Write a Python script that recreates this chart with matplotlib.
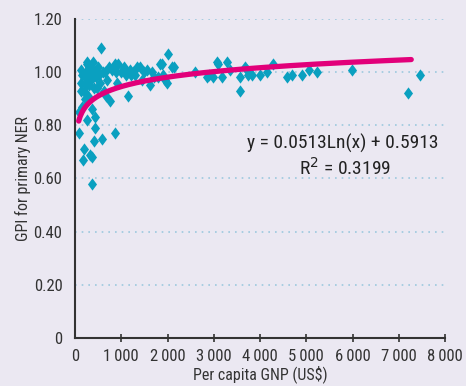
import numpy as np
import matplotlib
matplotlib.use("Agg")
import matplotlib.pyplot as plt
from matplotlib import font_manager

names = {f.name for f in font_manager.fontManager.ttflist}
fam = [n for n in ["Liberation Sans Narrow", "Roboto Condensed", "Roboto", "DejaVu Sans"] if n in names]
plt.rcParams['font.family'] = fam

gnp = [80, 90, 120, 130, 140, 150, 160, 180, 190, 200, 210, 220, 230, 240, 250, 260, 270, 270,
       280, 290, 300, 310, 320, 330, 340, 350, 360, 370, 370, 390, 400, 410, 420, 440, 440,
       450, 460, 480, 500, 520, 540, 560, 580, 600, 620, 650, 680, 700, 730, 760, 800, 860,
       870, 880, 900, 940, 1000, 1050, 1100, 1150, 1190, 1200, 1250, 1300, 1350, 1400, 1450,
       1500, 1550, 1620, 1660, 1700, 1800, 1840, 1880, 1910, 1950, 1990, 2010, 2090, 2130,
       2600, 2850, 2890, 2990, 3070, 3100, 3170, 3280, 3350, 3560, 3570, 3680, 3720, 3750,
       3820, 4000, 4150, 4290, 4580, 4690, 4900, 5050, 5230, 5990, 7210, 7450]
gpi = [0.77, 0.85, 0.93, 0.96, 1.01, 0.87, 0.99, 0.67, 0.71, 0.93, 0.98, 0.90, 1.00, 0.95,
       1.04, 0.82, 0.96, 1.03, 0.91, 0.98, 1.02, 0.95, 0.69, 1.01, 0.99, 0.97, 0.58, 0.68,
       0.86, 1.04, 0.74, 1.00, 0.94, 0.79, 0.83, 1.01, 0.98, 0.94, 1.02, 0.99, 0.96, 1.09,
       0.75, 1.00, 0.93, 1.00, 0.91, 0.97, 1.02, 0.89, 1.01, 0.77, 1.03, 1.00, 0.96, 1.03,
       1.00, 1.02, 0.99, 0.91, 1.01, 0.99, 1.00, 0.99, 1.02, 1.02, 0.97, 1.00, 1.01, 0.95,
       1.00, 0.98, 0.98, 1.03, 1.03, 0.99, 0.97, 0.96, 1.07, 1.02, 1.02, 1.00, 0.98, 0.99,
       0.98, 1.04, 1.03, 0.98, 1.04, 1.01, 0.93, 0.98, 1.02, 1.01, 0.99, 0.99, 0.99, 1.00,
       1.03, 0.98, 0.99, 0.99, 1.01, 1.00, 1.01, 0.92, 0.99]

fit_a, fit_b = 0.0513, 0.5913
fit_range = [80, 7270]
x_ticks = [0, 1000, 2000, 3000, 4000, 5000, 6000, 7000, 8000]
x_labels = ["0", "1\u2009000", "2\u2009000", "3\u2009000", "4\u2009000", "5\u2009000", "6\u2009000", "7\u2009000", "8\u2009000"]
y_ticks = [0, 0.2, 0.4, 0.6, 0.8, 1.0, 1.2]
y_labels = ["0", "0.20", "0.40", "0.60", "0.80", "1.00", "1.20"]

bg = "#EBE8F2"
fig = plt.figure(figsize=(4.66, 3.86), dpi=100, facecolor=bg)
ax = fig.add_axes([75/466, 48/386, 370/466, 319/386])
ax.set_facecolor(bg)

for yv in y_ticks[1:]:
    ax.axhline(yv, color="#9CC8DE", lw=1.2, ls=(0, (1, 3)), zorder=0)

diamond = [(0, 1), (0.74, 0), (0, -1), (-0.74, 0), (0, 1)]
ax.scatter(gnp, gpi, marker=diamond, s=78, color="#0AA0C0", linewidths=0, zorder=2)

xf = np.linspace(fit_range[0], fit_range[1], 400)
ax.plot(xf, fit_a * np.log(xf) + fit_b, color="#E2007A", lw=3.8, solid_capstyle="round", zorder=3)

ax.set_xlim(0, 8000)
ax.set_ylim(0, 1.2)
ax.set_xticks(x_ticks)
ax.set_xticklabels(x_labels)
ax.set_yticks(y_ticks)
ax.set_yticklabels(y_labels)
for s in ["top", "right"]:
    ax.spines[s].set_visible(False)
for s in ["left", "bottom"]:
    ax.spines[s].set_color("#333333")
    ax.spines[s].set_linewidth(1.5)
ax.tick_params(axis="x", direction="inout", length=6, width=1.2, color="#333333",
               labelsize=12, labelcolor="#333333", pad=5)
ax.tick_params(axis="y", length=0, labelsize=12, labelcolor="#333333", pad=9)
ax.xaxis.get_major_ticks()[0].tick1line.set_visible(False)

ax.set_xlabel("Per capita GNP (US$)", fontsize=11.5, color="#333333", labelpad=1)
ax.set_ylabel("GPI for primary NER", fontsize=11.5, color="#333333", labelpad=2)

ax.text(5780, 0.733, "y = 0.0513Ln(x) + 0.5913", fontsize=14, color="#222222",
        ha="center", va="center")
ax.text(5830, 0.640, "R$^2$ = 0.3199", fontsize=14, color="#222222",
        ha="center", va="center")

fig.savefig("out.png", dpi=100, facecolor=bg)
